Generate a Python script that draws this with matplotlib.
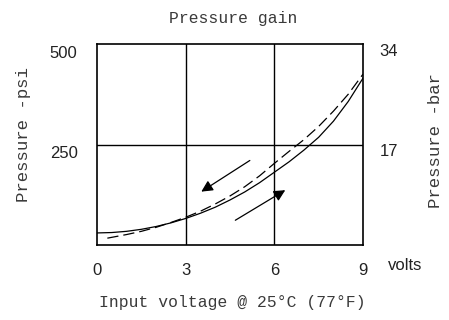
import matplotlib.pyplot as plt
import matplotlib.transforms as mtransforms

# data (volts, psi)
up_v = [0, 0.5, 1, 1.5, 2, 2.5, 3, 3.5, 4, 4.5, 5, 5.5, 6, 6.5, 7, 7.5, 8, 8.5, 9]
up_p = [30, 31, 34, 39, 46, 55, 66, 79, 94, 112, 132, 155, 181, 207, 236, 268, 308, 357, 415]
down_v = [0.35, 1, 1.5, 2, 2.5, 3, 3.5, 4, 4.5, 5, 5.5, 6, 6.5, 7, 7.5, 8, 8.5, 9]
down_p = [17, 26, 34, 44, 56, 69, 84, 102, 122, 145, 172, 203, 233, 262, 295, 333, 375, 425]

x_ticks = [0, 3, 6, 9]
psi_ticks = [250, 500]
bar_ticks = [17, 34]

mono = 'Liberation Mono'
sans = 'Liberation Sans'
txt_col = '#3a3a3a'

fig = plt.figure(figsize=(4.49, 3.2), dpi=100)
ax = fig.add_axes([97 / 449, 75 / 320, 266 / 449, 201 / 320])

ax.plot(up_v, up_p, color='black', lw=0.9)
ax.plot(down_v, down_p, color='black', lw=0.9, dashes=(9, 4))

# direction arrows
ax.annotate('', xy=(3.45, 129), xytext=(5.25, 214),
            arrowprops=dict(arrowstyle='-|>', color='black', lw=0.9, mutation_scale=17))
ax.annotate('', xy=(6.45, 140), xytext=(4.6, 58),
            arrowprops=dict(arrowstyle='-|>', color='black', lw=0.9, mutation_scale=17))

ax.set_xlim(0, 9)
ax.set_ylim(0, 500)
for x in [3, 6]:
    ax.axvline(x, color='black', lw=1.0)
ax.axhline(250, color='black', lw=1.0)
for s in ax.spines.values():
    s.set_linewidth(1.2)

ax.set_xticks(x_ticks)
ax.set_yticks(psi_ticks)
ax.tick_params(length=0)
ax.tick_params(axis='x', pad=13)
ax.tick_params(axis='y', pad=14)
for lab in ax.get_xticklabels() + ax.get_yticklabels():
    lab.set_fontfamily(sans)
    lab.set_fontsize(12)
    lab.set_color('#222222')
shift = mtransforms.ScaledTranslation(0, -8 / 100, fig.dpi_scale_trans)
for lab in ax.get_yticklabels():
    lab.set_transform(lab.get_transform() + shift)

ax2 = ax.twinx()
ax2.set_ylim(0, 34)
ax2.set_yticks(bar_ticks)
ax2.tick_params(length=0, pad=12)
for s in ax2.spines.values():
    s.set_visible(False)
for lab in ax2.get_yticklabels():
    lab.set_fontfamily(sans)
    lab.set_fontsize(12)
    lab.set_color('#222222')
    lab.set_transform(lab.get_transform() + mtransforms.ScaledTranslation(0, -6 / 100, fig.dpi_scale_trans))

fig.text(388 / 449, 1 - 266 / 320, 'volts', family=sans, fontsize=12,
         color='#222222', ha='left', va='center')

fig.text(233 / 449, 1 - 18 / 320, 'Pressure gain', family=mono, fontsize=11.8,
         color=txt_col, ha='center', va='center')
fig.text(232 / 449, 1 - 303 / 320, 'Input voltage @ 25°C (77°F)', family=mono,
         fontsize=11.8, color=txt_col, ha='center', va='center')
fig.text(24 / 449, 1 - 135 / 320, 'Pressure -psi', family=mono, fontsize=12.5,
         color=txt_col, ha='center', va='center', rotation=90)
fig.text(436 / 449, 1 - 141 / 320, 'Pressure -bar', family=mono, fontsize=12.5,
         color=txt_col, ha='center', va='center', rotation=90)

fig.savefig('out.png', dpi=100)
